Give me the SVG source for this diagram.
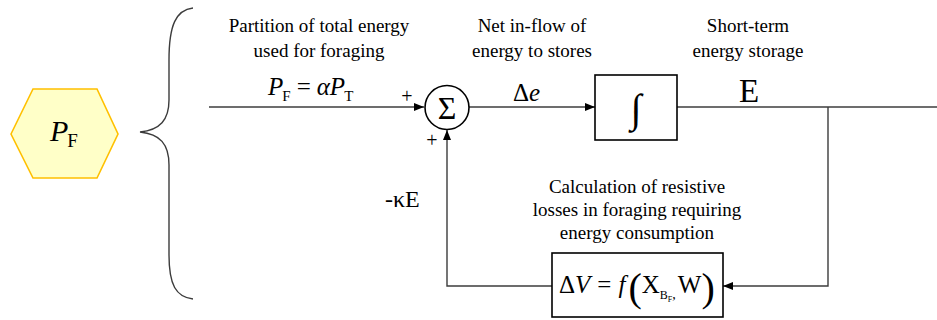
<svg xmlns="http://www.w3.org/2000/svg" width="937" height="320" viewBox="0 0 937 320">
<style>
text{fill:#000;font-family:'Liberation Serif','Times New Roman',serif}
.lbl{font-size:19px;text-anchor:middle}
.m{font-size:25px}
.it{font-style:italic}
.pl{font-size:20px;text-anchor:middle}
.ln{fill:none;stroke:#3c3c3c;stroke-width:1.4}
.bx{fill:#fff;stroke:#000;stroke-width:1.6}
</style>
<defs>
<marker id="ah" viewBox="0 0 10 10" refX="10" refY="5" markerWidth="10" markerHeight="10" markerUnits="userSpaceOnUse" orient="auto">
<path d="M0,1 L10,5 L0,9 Z" fill="#000"/>
</marker>
</defs>
<g id="hexagon">
<polygon points="11,134 33,89 97,89 118,134 97,178 33,178" fill="#ffffc8" stroke="#ffc000" stroke-width="1.6"/>
<text x="50" y="141" font-size="30"><tspan class="it">P</tspan><tspan font-size="19" dy="6" dx="-1">F</tspan></text>
</g>
<g id="brace">
<path class="ln" d="M193,8 C176,10 169,25 169,60 L169,100 C169,120 160,130 140,132 C160,134 169,144 169,165 L169,255 C169,285 176,297 193,299"/>
</g>
<g id="labels">
<text class="lbl" x="319" y="32">Partition of total energy</text>
<text class="lbl" x="319" y="57">used for foraging</text>
<text class="lbl" x="532" y="32">Net in-flow of</text>
<text class="lbl" x="532" y="57">energy to stores</text>
<text class="lbl" x="748" y="32">Short-term</text>
<text class="lbl" x="748" y="57">energy storage</text>
<text class="lbl" x="637" y="193">Calculation of resistive</text>
<text class="lbl" x="637" y="216">losses in foraging requiring</text>
<text class="lbl" x="637" y="239">energy consumption</text>
<text x="268" y="95" class="m"><tspan class="it">P</tspan><tspan font-size="15" dy="6" dx="-1">F</tspan><tspan dy="-6" dx="6">=</tspan><tspan dx="6" class="it">αP</tspan><tspan font-size="15" dy="6" dx="-1">T</tspan></text>
<text x="513" y="101" class="m">Δ<tspan class="it">e</tspan></text>
<text x="739" y="102" font-size="33">E</text>
<text x="385" y="207" font-size="24">-κE</text>
<text class="pl" x="407" y="103">+</text>
<text class="pl" x="432" y="147">+</text>
</g>
<g id="connectors">
<path class="ln" d="M209,107 L424,107" marker-end="url(#ah)"/>
<path class="ln" d="M469,107 L595,107" marker-end="url(#ah)"/>
<path class="ln" d="M677,107 L937,107"/>
<path class="ln" d="M828,107 L828,286 L723,286" marker-end="url(#ah)"/>
<path class="ln" d="M552,286 L447,286 L447,130" marker-end="url(#ah)"/>
</g>
<g id="sum">
<circle cx="447" cy="107.5" r="22" fill="#fff" stroke="#000" stroke-width="1.6"/>
<text x="447" y="119" font-size="32" text-anchor="middle">Σ</text>
</g>
<g id="integrator">
<rect class="bx" x="595" y="75" width="82" height="65"/>
<text x="636" y="122" font-size="40" text-anchor="middle">∫</text>
</g>
<g id="loss">
<rect class="bx" x="552" y="253" width="171" height="64"/>
<text x="559" y="293" class="m">Δ<tspan class="it">V</tspan><tspan dx="7">=</tspan><tspan dx="7" class="it">f</tspan><tspan dx="3" font-size="40" dy="8">(</tspan><tspan dy="-8">X</tspan><tspan font-size="12" dy="6">B</tspan><tspan font-size="8" dy="3">F</tspan><tspan font-size="14" dy="-3">,</tspan><tspan dy="-6" dx="2">W</tspan><tspan font-size="40" dy="8">)</tspan></text>
</g>
</svg>
